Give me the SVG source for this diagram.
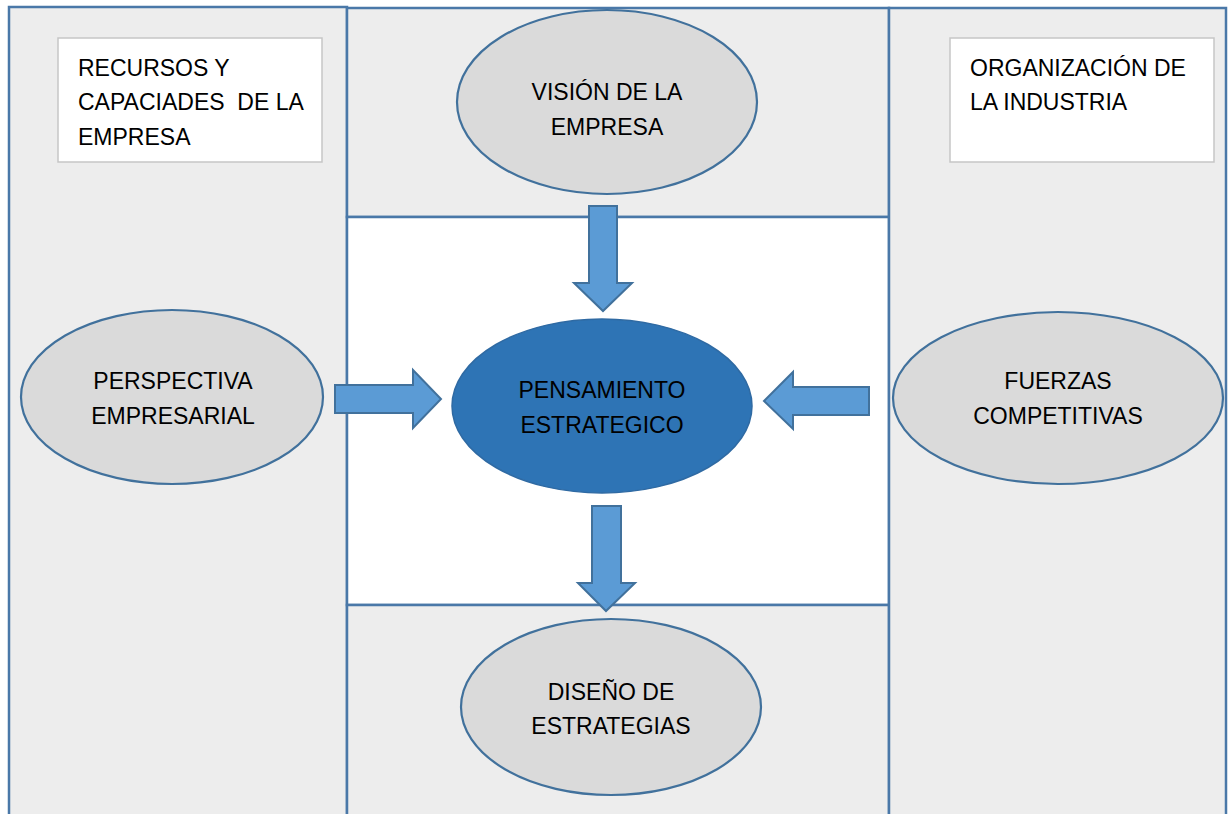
<svg xmlns="http://www.w3.org/2000/svg" width="1228" height="814" viewBox="0 0 1228 814">
<style>
.col{fill:#ededed;stroke:#4a78a8;stroke-width:2.5}
.white{fill:#ffffff;stroke:#4a78a8;stroke-width:2.5}
.box{fill:#ffffff;stroke:#c6c6c6;stroke-width:1.5}
.ell{fill:#dadada;stroke:#41719c;stroke-width:2.2}
.main{fill:#2e74b5;stroke:#2f6aa3;stroke-width:1.5}
.arr{fill:#5b9bd5;stroke:#41719c;stroke-width:2}
text{font-family:"Liberation Sans",Arial,sans-serif;font-size:23px;fill:#000}
.c{text-anchor:middle}
</style>
<g id="background">
<rect class="col" x="9" y="7" width="338" height="820"/>
<rect class="col" x="347" y="8" width="542" height="209"/>
<rect class="white" x="347" y="217" width="542" height="388"/>
<rect class="col" x="347" y="605" width="542" height="220"/>
<rect class="col" x="889" y="8" width="337" height="820"/>
</g>
<g id="recursos">
<rect class="box" x="58" y="38" width="264" height="124"/>
<text x="78" y="76">RECURSOS Y</text>
<text x="78" y="110" xml:space="preserve">CAPACIADES  DE LA</text>
<text x="78" y="145">EMPRESA</text>
</g>
<g id="organizacion">
<rect class="box" x="950" y="38" width="264" height="124"/>
<text x="970" y="76">ORGANIZACIÓN DE</text>
<text x="970" y="110">LA INDUSTRIA</text>
</g>
<g id="vision">
<ellipse class="ell" cx="607" cy="102" rx="150" ry="92"/>
<text class="c" x="607" y="100">VISIÓN DE LA</text>
<text class="c" x="607" y="135">EMPRESA</text>
</g>
<g id="perspectiva">
<ellipse class="ell" cx="172" cy="397" rx="151" ry="87"/>
<text class="c" x="173" y="389">PERSPECTIVA</text>
<text class="c" x="173" y="424">EMPRESARIAL</text>
</g>
<g id="pensamiento">
<ellipse class="main" cx="602" cy="406" rx="150" ry="87"/>
<text class="c" x="602" y="398">PENSAMIENTO</text>
<text class="c" x="602" y="433">ESTRATEGICO</text>
</g>
<g id="fuerzas">
<ellipse class="ell" cx="1058" cy="398" rx="165" ry="86"/>
<text class="c" x="1058" y="389">FUERZAS</text>
<text class="c" x="1058" y="424">COMPETITIVAS</text>
</g>
<g id="diseno">
<ellipse class="ell" cx="611" cy="707" rx="150" ry="88"/>
<text class="c" x="611" y="700">DISEÑO DE</text>
<text class="c" x="611" y="734">ESTRATEGIAS</text>
</g>
<g id="connectors">
<polygon class="arr" points="589,206 617,206 617,283 632,283 603,311 574,283 589,283"/>
<polygon class="arr" points="335,385 413,385 413,370 441,399 413,428 413,413 335,413"/>
<polygon class="arr" points="869,387 793,387 793,372 764,401 793,429 793,415 869,415"/>
<polygon class="arr" points="592,506 621,506 621,583 635,583 606,611 578,583 592,583"/>
</g>
</svg>
